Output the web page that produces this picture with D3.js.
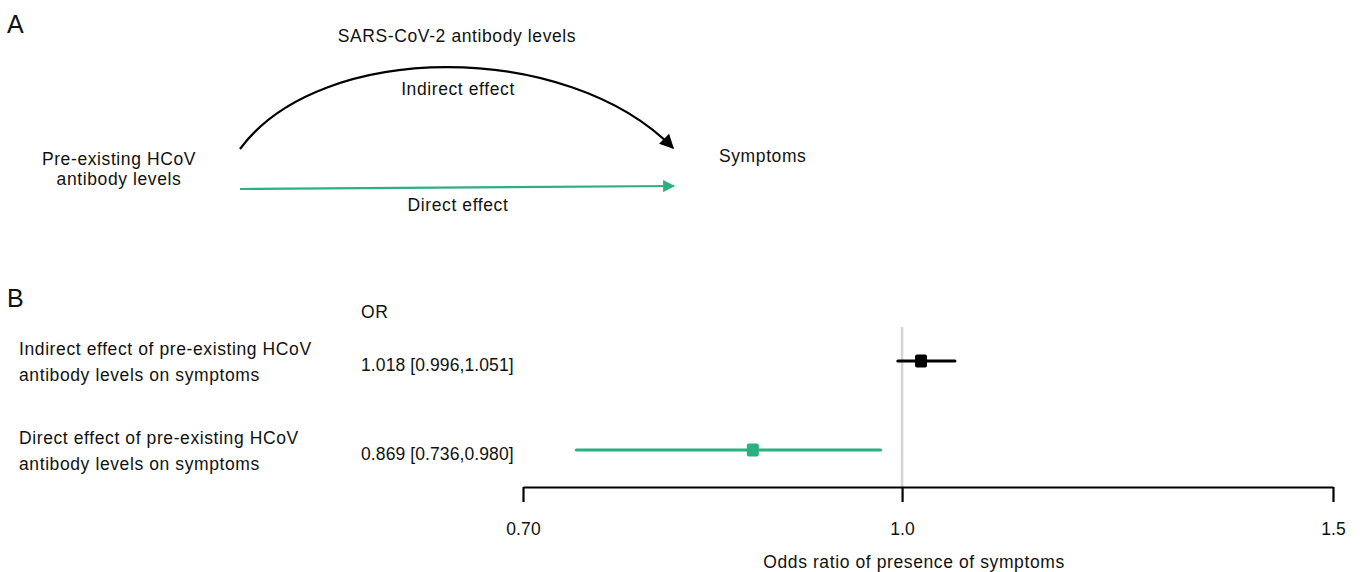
<!DOCTYPE html>
<html>
<head>
<meta charset="utf-8">
<script src="https://cdn.jsdelivr.net/npm/d3@7"></script>
<style>
  body { margin: 0; background: #fff; }
  text { font-family: "Liberation Sans", Arial, sans-serif; fill: #111; }
  .lbl { font-size: 17.5px; letter-spacing: 0.6px; }
  .num { font-size: 17.5px; letter-spacing: 0.1px; }
</style>
</head>
<body>
<svg width="1360" height="572"></svg>
<script>
// data
var effects = ["Indirect", "Direct"];
var labelLines = [
  ["Indirect effect of pre-existing HCoV", "antibody levels on symptoms"],
  ["Direct effect of pre-existing HCoV", "antibody levels on symptoms"]
];
var orValues = [1.018, 0.869];
var ciLow = [0.996, 0.736];
var ciHigh = [1.051, 0.980];
var tickValues = [0.70, 1.0, 1.5];
var tickLabels = ["0.70", "1.0", "1.5"];
var colors = ["#000000", "#2db07f"];

var green = "#2db07f";

var svg = d3.select("svg");

// ---- panel A: mediation diagram
svg.append("text").attr("x", 7).attr("y", 33).style("font-size", "25px").text("A");

var defs = svg.append("defs");
function marker(id, col, w) {
  defs.append("marker")
    .attr("id", id)
    .attr("viewBox", "0 0 10 10")
    .attr("refX", 9).attr("refY", 5)
    .attr("markerWidth", w).attr("markerHeight", w)
    .attr("markerUnits", "strokeWidth")
    .attr("orient", "auto")
    .append("path").attr("d", "M0,0 L10,5 L0,10 z").attr("fill", col);
}
marker("arrBlack", "#000", 6.5);
marker("arrGreen", green, 5.5);

var arc = d3.path();
arc.moveTo(240, 149);
arc.bezierCurveTo(320, 40, 567, 40, 673, 148);
svg.append("path").attr("d", arc.toString())
  .attr("fill", "none").attr("stroke", "#000").attr("stroke-width", 2.2)
  .attr("marker-end", "url(#arrBlack)");

svg.append("line")
  .attr("x1", 240).attr("y1", 189).attr("x2", 674).attr("y2", 186)
  .attr("stroke", green).attr("stroke-width", 2.2)
  .attr("marker-end", "url(#arrGreen)");

var diagText = [
  {t: "SARS-CoV-2 antibody levels", x: 457, y: 42, a: "middle"},
  {t: "Indirect effect", x: 458, y: 95, a: "middle"},
  {t: "Pre-existing HCoV", x: 119, y: 165, a: "middle"},
  {t: "antibody levels", x: 119, y: 185, a: "middle"},
  {t: "Symptoms", x: 719, y: 162, a: "start"},
  {t: "Direct effect", x: 458, y: 211, a: "middle"}
];
svg.selectAll("text.diag").data(diagText).enter().append("text")
  .attr("class", "diag lbl")
  .attr("x", function(d) { return d.x; })
  .attr("y", function(d) { return d.y; })
  .attr("text-anchor", function(d) { return d.a; })
  .text(function(d) { return d.t; });

// ---- panel B: forest plot
svg.append("text").attr("x", 7).attr("y", 307).style("font-size", "25px").text("B");
svg.append("text").attr("class", "lbl").attr("x", 361).attr("y", 318).text("OR");

var x = d3.scaleLog().domain([0.70, 1.5]).range([523, 1333]);
var y = d3.scalePoint().domain(effects).range([361, 450]);

// reference line at OR = 1
svg.append("line")
  .attr("x1", x(1)).attr("x2", x(1)).attr("y1", 327).attr("y2", 487)
  .attr("stroke", "#d4d4d4").attr("stroke-width", 2.5);

var rows = svg.selectAll("g.row").data(effects).enter().append("g").attr("class", "row");

rows.each(function(d, i) {
  var g = d3.select(this);
  var yy = y(d);
  g.append("text").attr("class", "lbl").attr("x", 19).attr("y", yy - 6).text(labelLines[i][0]);
  g.append("text").attr("class", "lbl").attr("x", 19).attr("y", yy + 20).text(labelLines[i][1]);
  g.append("text").attr("class", "num").attr("x", 361).attr("y", yy + 10)
    .text(orValues[i].toFixed(3) + " [" + ciLow[i].toFixed(3) + "," + ciHigh[i].toFixed(3) + "]");
  g.append("line")
    .attr("x1", x(ciLow[i])).attr("x2", x(ciHigh[i])).attr("y1", yy).attr("y2", yy)
    .attr("stroke", colors[i]).attr("stroke-width", 3).attr("stroke-linecap", "round");
  g.append("rect")
    .attr("x", x(orValues[i]) - 6).attr("y", yy - 6.5).attr("width", 12).attr("height", 13)
    .attr("rx", 2).attr("fill", colors[i]);
});

// axis
var axis = d3.axisBottom(x).tickValues(tickValues)
  .tickFormat(function(d, i) { return tickLabels[i]; })
  .tickSize(15).tickSizeOuter(0).tickPadding(21);
var ax = svg.append("g").attr("transform", "translate(0,487)").call(axis);
ax.select(".domain").attr("stroke", "#000").attr("stroke-width", 2.2);
ax.selectAll(".tick line").attr("stroke", "#000").attr("stroke-width", 2.2);
ax.selectAll(".tick text").attr("class", "num")
  .style("font-family", "Liberation Sans, Arial, sans-serif").attr("fill", "#111");

svg.append("text").attr("class", "lbl").attr("x", 914).attr("y", 568).attr("text-anchor", "middle")
  .text("Odds ratio of presence of symptoms");
</script>
</body>
</html>
